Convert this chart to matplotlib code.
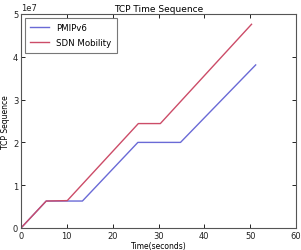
import numpy as np
import matplotlib
matplotlib.use("Agg")
import matplotlib.pyplot as plt

# data (time in s, sequence in units of 1e7)
pmip_t = [0, 5.5, 13.4, 25.5, 34.8, 51.2]
pmip_seq = [0, 0.63, 0.63, 2.0, 2.0, 3.81]
sdn_t = [0, 5.5, 10.1, 25.6, 30.4, 50.3]
sdn_seq = [0, 0.63, 0.64, 2.44, 2.44, 4.76]

plt.rcParams['font.family'] = 'DejaVu Sans'
plt.rcParams['xtick.direction'] = 'in'
plt.rcParams['ytick.direction'] = 'in'

fig = plt.figure(figsize=(3.01, 2.51), dpi=100)
ax = fig.add_axes([21/301, 22/251, 275/301, 214/251])

ax.plot(pmip_t, np.array(pmip_seq) * 1e7, color='#6a6ad6', lw=1.0, label='PMIPv6')
ax.plot(sdn_t, np.array(sdn_seq) * 1e7, color='#cc4c68', lw=1.0, label='SDN Mobility')

ax.set_xlim(0, 60)
ax.set_ylim(0, 5e7)
ax.set_xticks([0, 10, 20, 30, 40, 50, 60])
ax.set_yticks([0, 1e7, 2e7, 3e7, 4e7, 5e7])
ax.tick_params(labelsize=6, length=3, width=0.6, top=True, right=True, pad=2,
               labelcolor='#222222')
ax.yaxis.get_offset_text().set_fontsize(6)
for s in ax.spines.values():
    s.set_linewidth(0.8)
    s.set_color('#555555')

ax.set_title('TCP Time Sequence', fontsize=6.5, pad=2)
ax.set_xlabel('Time(seconds)', fontsize=5.5, labelpad=1)
ax.set_ylabel('TCP Sequence', fontsize=5.5, labelpad=2)

leg = ax.legend(loc='upper left', fontsize=6.2, frameon=True, fancybox=False,
                handlelength=2.2, borderpad=0.6, labelspacing=0.7)
leg.get_frame().set_edgecolor('#555555')
leg.get_frame().set_linewidth(0.8)

fig.savefig('out.png', dpi=100, facecolor='white')
